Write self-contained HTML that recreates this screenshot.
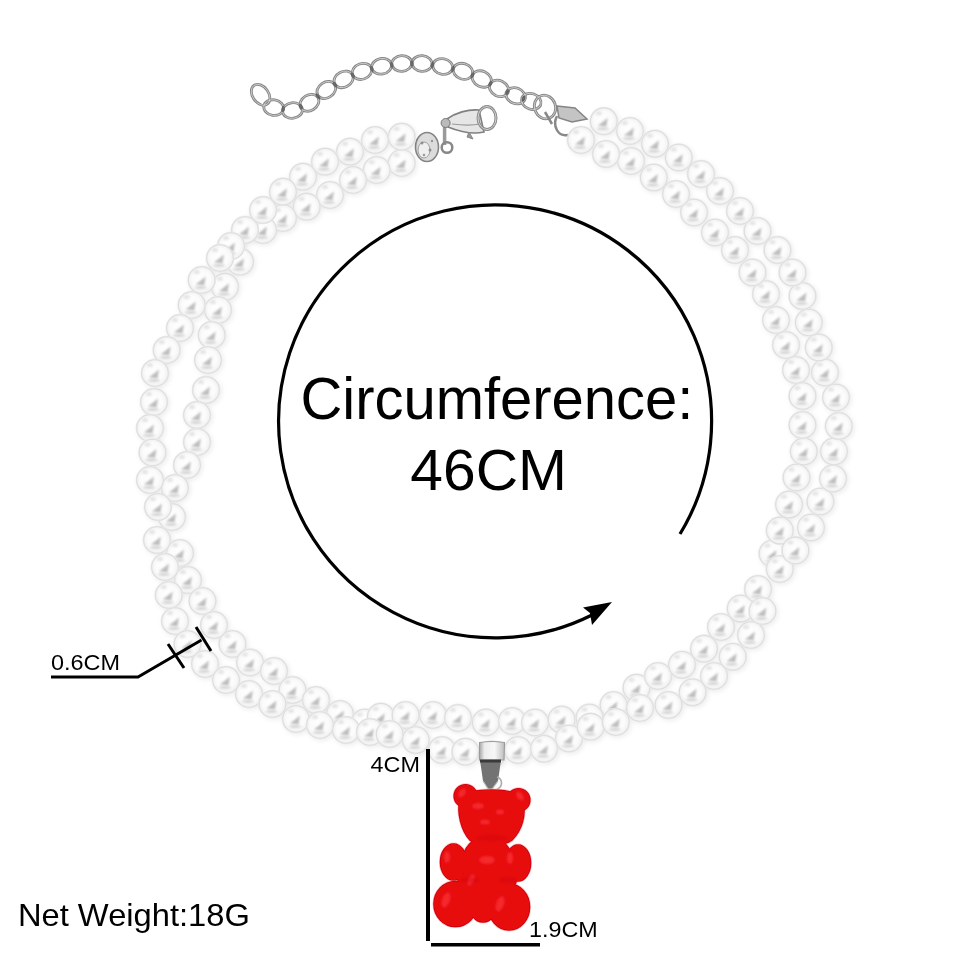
<!DOCTYPE html>
<html><head><meta charset="utf-8"><style>
html,body{margin:0;padding:0;background:#fff;}
body{width:960px;height:960px;overflow:hidden;position:relative;font-family:"Liberation Sans",sans-serif;}
svg{position:absolute;left:0;top:0;will-change:transform;}
.t{position:absolute;white-space:nowrap;color:#000;line-height:1;}
</style></head><body>
<svg width="960" height="960" viewBox="0 0 960 960">
<defs>
<radialGradient id="pg" cx="0.5" cy="0.5" r="0.5" fx="0.47" fy="0.45">
<stop offset="0" stop-color="#ffffff"/>
<stop offset="0.65" stop-color="#fbfbfb"/>
<stop offset="0.88" stop-color="#f2f2f2"/>
<stop offset="1" stop-color="#e9e9e9"/>
</radialGradient>
<filter id="bl" x="-50%" y="-50%" width="200%" height="200%"><feGaussianBlur stdDeviation="1.2"/></filter>
<filter id="pb1" filterUnits="userSpaceOnUse" x="-20" y="-20" width="40" height="40"><feGaussianBlur stdDeviation="0.5"/></filter>
<filter id="pb2" filterUnits="userSpaceOnUse" x="-20" y="-20" width="40" height="40"><feGaussianBlur stdDeviation="1.0"/></filter>
<filter id="shb" x="-10%" y="-10%" width="120%" height="120%"><feGaussianBlur stdDeviation="2"/></filter>
<filter id="bl3" x="-50%" y="-50%" width="200%" height="200%"><feGaussianBlur stdDeviation="0.9"/></filter>
<filter id="bl2" x="-50%" y="-50%" width="200%" height="200%"><feGaussianBlur stdDeviation="0.6"/></filter>
<g id="pearl">
<circle r="14.3" fill="url(#pg)"/>
<circle r="13.3" fill="none" stroke="#dedede" stroke-width="1.1" filter="url(#pb1)"/>
<path d="M-6,4.5 L4,-3.5 L2.5,5.5 Z" fill="#bdbdbd" filter="url(#pb2)"/>
<ellipse cx="-1" cy="7.5" rx="6" ry="1.5" fill="#d2d2d2" filter="url(#pb2)"/>
<ellipse cx="-5" cy="-8" rx="3" ry="2" fill="#e4e4e4" filter="url(#pb2)"/>
</g>
<circle id="pshadow" r="14.8" fill="#000" opacity="0.06"/>
<linearGradient id="bail" x1="0" x2="1">
<stop offset="0" stop-color="#a8a8a8"/><stop offset="0.2" stop-color="#ececec"/><stop offset="0.6" stop-color="#f8f8f8"/><stop offset="1" stop-color="#bdbdbd"/>
</linearGradient>
</defs>
<rect width="960" height="960" fill="#fff"/>
<g fill="none" stroke="#868686" stroke-width="2.8">
<ellipse cx="273.7" cy="107.6" rx="10" ry="7.8" transform="rotate(8.8 273.7 107.6)"/>
<ellipse cx="292.5" cy="110.5" rx="10" ry="7.8" transform="rotate(-7.7 292.5 110.5)"/>
<ellipse cx="309.4" cy="102.8" rx="10" ry="7.8" transform="rotate(-31.2 309.4 102.8)"/>
<ellipse cx="326.3" cy="90" rx="10" ry="7.8" transform="rotate(-34.4 326.3 90)"/>
<ellipse cx="343.6" cy="79.4" rx="10" ry="7.8" transform="rotate(-27.5 343.6 79.4)"/>
<ellipse cx="362" cy="71.4" rx="10" ry="7.8" transform="rotate(-19.0 362 71.4)"/>
<ellipse cx="381.6" cy="66.3" rx="10" ry="7.8" transform="rotate(-11.2 381.6 66.3)"/>
<ellipse cx="401.8" cy="63.5" rx="10" ry="7.8" transform="rotate(-4.0 401.8 63.5)"/>
<ellipse cx="422" cy="63.5" rx="10" ry="7.8" transform="rotate(4.2 422 63.5)"/>
<ellipse cx="442.7" cy="66.5" rx="10" ry="7.8" transform="rotate(10.8 442.7 66.5)"/>
<ellipse cx="463" cy="71.3" rx="10" ry="7.8" transform="rotate(17.7 463 71.3)"/>
<ellipse cx="481.8" cy="79" rx="10" ry="7.8" transform="rotate(25.4 481.8 79)"/>
<ellipse cx="499" cy="88.4" rx="10" ry="7.8" transform="rotate(26.4 499 88.4)"/>
<ellipse cx="515.6" cy="95.8" rx="10" ry="7.8" transform="rotate(21.9 515.6 95.8)"/>
<ellipse cx="531.3" cy="101.4" rx="10" ry="7.8" transform="rotate(19.6 531.3 101.4)"/>
<ellipse cx="260.6" cy="94.8" rx="8" ry="11.5" transform="rotate(-35 260.6 94.8)"/>
<ellipse cx="545" cy="107" rx="10.5" ry="12" transform="rotate(-20 545 107)"/>

</g>
<g fill="none" stroke="#e0e0e0" stroke-width="0.7">
<ellipse cx="273.7" cy="107.6" rx="10" ry="7.8" transform="rotate(8.8 273.7 107.6)"/>
<ellipse cx="292.5" cy="110.5" rx="10" ry="7.8" transform="rotate(-7.7 292.5 110.5)"/>
<ellipse cx="309.4" cy="102.8" rx="10" ry="7.8" transform="rotate(-31.2 309.4 102.8)"/>
<ellipse cx="326.3" cy="90" rx="10" ry="7.8" transform="rotate(-34.4 326.3 90)"/>
<ellipse cx="343.6" cy="79.4" rx="10" ry="7.8" transform="rotate(-27.5 343.6 79.4)"/>
<ellipse cx="362" cy="71.4" rx="10" ry="7.8" transform="rotate(-19.0 362 71.4)"/>
<ellipse cx="381.6" cy="66.3" rx="10" ry="7.8" transform="rotate(-11.2 381.6 66.3)"/>
<ellipse cx="401.8" cy="63.5" rx="10" ry="7.8" transform="rotate(-4.0 401.8 63.5)"/>
<ellipse cx="422" cy="63.5" rx="10" ry="7.8" transform="rotate(4.2 422 63.5)"/>
<ellipse cx="442.7" cy="66.5" rx="10" ry="7.8" transform="rotate(10.8 442.7 66.5)"/>
<ellipse cx="463" cy="71.3" rx="10" ry="7.8" transform="rotate(17.7 463 71.3)"/>
<ellipse cx="481.8" cy="79" rx="10" ry="7.8" transform="rotate(25.4 481.8 79)"/>
<ellipse cx="499" cy="88.4" rx="10" ry="7.8" transform="rotate(26.4 499 88.4)"/>
<ellipse cx="515.6" cy="95.8" rx="10" ry="7.8" transform="rotate(21.9 515.6 95.8)"/>
<ellipse cx="531.3" cy="101.4" rx="10" ry="7.8" transform="rotate(19.6 531.3 101.4)"/>
<ellipse cx="260.6" cy="94.8" rx="8" ry="11.5" transform="rotate(-35 260.6 94.8)"/>
<ellipse cx="545" cy="107" rx="10.5" ry="12" transform="rotate(-20 545 107)"/>

</g>
<g fill="#555" opacity="0.8" filter="url(#bl2)">
<ellipse cx="283.1" cy="109.0" rx="1.6" ry="3.2" transform="rotate(8.8 283.1 109.0)"/>
<ellipse cx="300.9" cy="106.7" rx="1.6" ry="3.2" transform="rotate(-24.5 300.9 106.7)"/>
<ellipse cx="317.9" cy="96.4" rx="1.6" ry="3.2" transform="rotate(-37.1 317.9 96.4)"/>
<ellipse cx="335.0" cy="84.7" rx="1.6" ry="3.2" transform="rotate(-31.5 335.0 84.7)"/>
<ellipse cx="352.8" cy="75.4" rx="1.6" ry="3.2" transform="rotate(-23.5 352.8 75.4)"/>
<ellipse cx="371.8" cy="68.8" rx="1.6" ry="3.2" transform="rotate(-14.6 371.8 68.8)"/>
<ellipse cx="391.7" cy="64.9" rx="1.6" ry="3.2" transform="rotate(-7.9 391.7 64.9)"/>
<ellipse cx="411.9" cy="63.5" rx="1.6" ry="3.2" transform="rotate(0.0 411.9 63.5)"/>
<ellipse cx="432.4" cy="65.0" rx="1.6" ry="3.2" transform="rotate(8.2 432.4 65.0)"/>
<ellipse cx="452.9" cy="68.9" rx="1.6" ry="3.2" transform="rotate(13.3 452.9 68.9)"/>
<ellipse cx="472.4" cy="75.2" rx="1.6" ry="3.2" transform="rotate(22.3 472.4 75.2)"/>
<ellipse cx="490.4" cy="83.7" rx="1.6" ry="3.2" transform="rotate(28.7 490.4 83.7)"/>
<ellipse cx="507.3" cy="92.1" rx="1.6" ry="3.2" transform="rotate(24.0 507.3 92.1)"/>
<ellipse cx="523.5" cy="98.6" rx="1.6" ry="3.2" transform="rotate(19.6 523.5 98.6)"/>

</g>
<!-- clasp -->
<path d="M447,119 C455,113 468,109 479,110 L484,132 C472,135 458,131 448,127 Z" fill="#e6e6e6" stroke="#808080" stroke-width="1.6"/>
<path d="M452,124 C460,125 470,126 480,124" fill="none" stroke="#9a9a9a" stroke-width="1.2"/>
<ellipse cx="487" cy="118" rx="9" ry="11.5" fill="none" stroke="#8a8a8a" stroke-width="3"/>
<ellipse cx="487" cy="118" rx="9" ry="11.5" fill="none" stroke="#e4e4e4" stroke-width="0.8"/>
<path d="M469,132 L473,139 L467,137 Z" fill="#999" stroke="#888" stroke-width="1"/>
<line x1="444.6" y1="125" x2="444.6" y2="145" stroke="#9a9a9a" stroke-width="3.5"/>
<circle cx="445.6" cy="123" r="4.5" fill="#bbb" stroke="#777" stroke-width="1"/>
<circle cx="447" cy="147.5" r="5.3" fill="none" stroke="#888" stroke-width="2.5"/>
<ellipse cx="427" cy="147" rx="11.5" ry="14.5" fill="#dcdcdc" stroke="#858585" stroke-width="1.6"/>
<ellipse cx="424" cy="150" rx="6" ry="8" fill="#efefef" stroke="#a0a0a0" stroke-width="1"/>
<g fill="#777" opacity="0.7"><circle cx="422" cy="143" r="1.5"/><circle cx="430" cy="150" r="1.5"/><circle cx="424" cy="155" r="1.3"/><circle cx="432" cy="141" r="1.2"/></g>
<path d="M557,106 L575,108 L587,119 L572,122 L559,118 Z" fill="#c4c4c4" stroke="#858585" stroke-width="1.5"/>
<path d="M557,116 C552,126 558,137 568,135" fill="none" stroke="#888" stroke-width="2.5"/>
<path d="M545,112 L552,124" stroke="#888" stroke-width="2.5"/>
<g filter="url(#shb)">
<use href="#pshadow" x="403.2" y="164.5"/>
<use href="#pshadow" x="378.2" y="171.5"/>
<use href="#pshadow" x="354.5" y="181.5"/>
<use href="#pshadow" x="331.5" y="196.5"/>
<use href="#pshadow" x="308.2" y="208.2"/>
<use href="#pshadow" x="284.5" y="219.5"/>
<use href="#pshadow" x="264.5" y="231.5"/>
<use href="#pshadow" x="241.5" y="263.2"/>
<use href="#pshadow" x="226.5" y="288.2"/>
<use href="#pshadow" x="219.5" y="311.5"/>
<use href="#pshadow" x="213.2" y="336.5"/>
<use href="#pshadow" x="209.5" y="361.5"/>
<use href="#pshadow" x="207.5" y="391.5"/>
<use href="#pshadow" x="198.5" y="416.5"/>
<use href="#pshadow" x="198.5" y="443.5"/>
<use href="#pshadow" x="188.5" y="466.5"/>
<use href="#pshadow" x="176.5" y="489.5"/>
<use href="#pshadow" x="173.5" y="518.5"/>
<use href="#pshadow" x="181.5" y="554.5"/>
<use href="#pshadow" x="189.5" y="581.5"/>
<use href="#pshadow" x="204.0" y="602.5"/>
<use href="#pshadow" x="215.5" y="626.5"/>
<use href="#pshadow" x="234.0" y="645.5"/>
<use href="#pshadow" x="251.5" y="664.0"/>
<use href="#pshadow" x="275.5" y="672.5"/>
<use href="#pshadow" x="294.0" y="691.5"/>
<use href="#pshadow" x="317.5" y="701.5"/>
<use href="#pshadow" x="341.5" y="715.5"/>
<use href="#pshadow" x="366.3" y="724.0"/>
<use href="#pshadow" x="382.3" y="718.2"/>
<use href="#pshadow" x="407.1" y="716.5"/>
<use href="#pshadow" x="434.5" y="716.5"/>
<use href="#pshadow" x="459.5" y="719.5"/>
<use href="#pshadow" x="487.3" y="724.0"/>
<use href="#pshadow" x="513.5" y="722.5"/>
<use href="#pshadow" x="536.5" y="724.0"/>
<use href="#pshadow" x="563.1" y="721.1"/>
<use href="#pshadow" x="591.0" y="719.0"/>
<use href="#pshadow" x="615.0" y="706.5"/>
<use href="#pshadow" x="638.0" y="689.2"/>
<use href="#pshadow" x="659.5" y="677.5"/>
<use href="#pshadow" x="683.5" y="666.3"/>
<use href="#pshadow" x="705.5" y="650.2"/>
<use href="#pshadow" x="722.5" y="628.5"/>
<use href="#pshadow" x="742.2" y="610.1"/>
<use href="#pshadow" x="759.5" y="590.5"/>
<use href="#pshadow" x="774.0" y="555.0"/>
<use href="#pshadow" x="781.3" y="532.1"/>
<use href="#pshadow" x="790.5" y="506.1"/>
<use href="#pshadow" x="798.0" y="479.0"/>
<use href="#pshadow" x="805.2" y="453.0"/>
<use href="#pshadow" x="804.0" y="426.5"/>
<use href="#pshadow" x="804.0" y="397.5"/>
<use href="#pshadow" x="797.5" y="371.5"/>
<use href="#pshadow" x="787.5" y="346.5"/>
<use href="#pshadow" x="777.5" y="321.5"/>
<use href="#pshadow" x="767.5" y="295.5"/>
<use href="#pshadow" x="754.0" y="274.0"/>
<use href="#pshadow" x="736.5" y="251.5"/>
<use href="#pshadow" x="716.5" y="234.0"/>
<use href="#pshadow" x="695.5" y="214.0"/>
<use href="#pshadow" x="677.5" y="195.5"/>
<use href="#pshadow" x="655.2" y="179.0"/>
<use href="#pshadow" x="632.5" y="162.5"/>
<use href="#pshadow" x="607.5" y="155.5"/>
<use href="#pshadow" x="582.5" y="141.5"/>
<use href="#pshadow" x="403.2" y="138.2"/>
<use href="#pshadow" x="376.5" y="141.5"/>
<use href="#pshadow" x="351.5" y="153.2"/>
<use href="#pshadow" x="326.5" y="163.2"/>
<use href="#pshadow" x="304.5" y="178.2"/>
<use href="#pshadow" x="284.5" y="193.2"/>
<use href="#pshadow" x="264.5" y="211.5"/>
<use href="#pshadow" x="246.5" y="231.5"/>
<use href="#pshadow" x="232.5" y="247.5"/>
<use href="#pshadow" x="221.5" y="259.5"/>
<use href="#pshadow" x="203.2" y="281.5"/>
<use href="#pshadow" x="193.2" y="306.5"/>
<use href="#pshadow" x="181.5" y="329.5"/>
<use href="#pshadow" x="168.2" y="351.5"/>
<use href="#pshadow" x="156.5" y="374.5"/>
<use href="#pshadow" x="155.5" y="403.5"/>
<use href="#pshadow" x="151.5" y="429.5"/>
<use href="#pshadow" x="154.0" y="454.0"/>
<use href="#pshadow" x="151.5" y="481.5"/>
<use href="#pshadow" x="159.5" y="508.5"/>
<use href="#pshadow" x="158.5" y="541.5"/>
<use href="#pshadow" x="166.5" y="568.5"/>
<use href="#pshadow" x="170.2" y="596.5"/>
<use href="#pshadow" x="176.5" y="622.5"/>
<use href="#pshadow" x="189.0" y="645.5"/>
<use href="#pshadow" x="206.5" y="665.5"/>
<use href="#pshadow" x="227.5" y="681.5"/>
<use href="#pshadow" x="250.5" y="695.5"/>
<use href="#pshadow" x="274.0" y="705.5"/>
<use href="#pshadow" x="297.5" y="720.5"/>
<use href="#pshadow" x="321.5" y="726.5"/>
<use href="#pshadow" x="347.5" y="731.5"/>
<use href="#pshadow" x="371.5" y="733.5"/>
<use href="#pshadow" x="391.1" y="735.5"/>
<use href="#pshadow" x="417.3" y="741.5"/>
<use href="#pshadow" x="443.5" y="751.5"/>
<use href="#pshadow" x="466.9" y="753.2"/>
<use href="#pshadow" x="493.2" y="756.1"/>
<use href="#pshadow" x="519.5" y="751.5"/>
<use href="#pshadow" x="545.5" y="750.2"/>
<use href="#pshadow" x="570.5" y="740.0"/>
<use href="#pshadow" x="592.1" y="728.2"/>
<use href="#pshadow" x="617.3" y="723.5"/>
<use href="#pshadow" x="641.5" y="709.5"/>
<use href="#pshadow" x="670.0" y="706.5"/>
<use href="#pshadow" x="694.1" y="693.8"/>
<use href="#pshadow" x="715.5" y="677.5"/>
<use href="#pshadow" x="734.2" y="658.3"/>
<use href="#pshadow" x="752.5" y="636.5"/>
<use href="#pshadow" x="764.0" y="612.5"/>
<use href="#pshadow" x="781.3" y="570.5"/>
<use href="#pshadow" x="796.9" y="551.9"/>
<use href="#pshadow" x="812.5" y="529.0"/>
<use href="#pshadow" x="821.9" y="503.0"/>
<use href="#pshadow" x="834.5" y="480.0"/>
<use href="#pshadow" x="835.5" y="453.0"/>
<use href="#pshadow" x="840.2" y="427.5"/>
<use href="#pshadow" x="837.5" y="399.0"/>
<use href="#pshadow" x="826.5" y="374.0"/>
<use href="#pshadow" x="820.2" y="349.0"/>
<use href="#pshadow" x="810.2" y="324.0"/>
<use href="#pshadow" x="804.0" y="297.5"/>
<use href="#pshadow" x="794.0" y="274.0"/>
<use href="#pshadow" x="779.0" y="251.5"/>
<use href="#pshadow" x="759.0" y="232.5"/>
<use href="#pshadow" x="741.5" y="212.5"/>
<use href="#pshadow" x="721.5" y="192.5"/>
<use href="#pshadow" x="702.5" y="175.5"/>
<use href="#pshadow" x="680.2" y="159.0"/>
<use href="#pshadow" x="656.5" y="145.2"/>
<use href="#pshadow" x="631.5" y="132.5"/>
<use href="#pshadow" x="605.2" y="122.8"/>
</g>
<g>
<use href="#pearl" x="401.7" y="163.0"/>
<use href="#pearl" x="376.7" y="170.0"/>
<use href="#pearl" x="353.0" y="180.0"/>
<use href="#pearl" x="330.0" y="195.0"/>
<use href="#pearl" x="306.7" y="206.7"/>
<use href="#pearl" x="283.0" y="218.0"/>
<use href="#pearl" x="263.0" y="230.0"/>
<use href="#pearl" x="240.0" y="261.7"/>
<use href="#pearl" x="225.0" y="286.7"/>
<use href="#pearl" x="218.0" y="310.0"/>
<use href="#pearl" x="211.7" y="335.0"/>
<use href="#pearl" x="208.0" y="360.0"/>
<use href="#pearl" x="206.0" y="390.0"/>
<use href="#pearl" x="197.0" y="415.0"/>
<use href="#pearl" x="197.0" y="442.0"/>
<use href="#pearl" x="187.0" y="465.0"/>
<use href="#pearl" x="175.0" y="488.0"/>
<use href="#pearl" x="172.0" y="517.0"/>
<use href="#pearl" x="180.0" y="553.0"/>
<use href="#pearl" x="188.0" y="580.0"/>
<use href="#pearl" x="202.5" y="601.0"/>
<use href="#pearl" x="214.0" y="625.0"/>
<use href="#pearl" x="232.5" y="644.0"/>
<use href="#pearl" x="250.0" y="662.5"/>
<use href="#pearl" x="274.0" y="671.0"/>
<use href="#pearl" x="292.5" y="690.0"/>
<use href="#pearl" x="316.0" y="700.0"/>
<use href="#pearl" x="340.0" y="714.0"/>
<use href="#pearl" x="364.8" y="722.5"/>
<use href="#pearl" x="380.8" y="716.7"/>
<use href="#pearl" x="405.6" y="715.0"/>
<use href="#pearl" x="433.0" y="715.0"/>
<use href="#pearl" x="458.0" y="718.0"/>
<use href="#pearl" x="485.8" y="722.5"/>
<use href="#pearl" x="512.0" y="721.0"/>
<use href="#pearl" x="535.0" y="722.5"/>
<use href="#pearl" x="561.6" y="719.6"/>
<use href="#pearl" x="589.5" y="717.5"/>
<use href="#pearl" x="613.5" y="705.0"/>
<use href="#pearl" x="636.5" y="687.7"/>
<use href="#pearl" x="658.0" y="676.0"/>
<use href="#pearl" x="682.0" y="664.8"/>
<use href="#pearl" x="704.0" y="648.7"/>
<use href="#pearl" x="721.0" y="627.0"/>
<use href="#pearl" x="740.7" y="608.6"/>
<use href="#pearl" x="758.0" y="589.0"/>
<use href="#pearl" x="772.5" y="553.5"/>
<use href="#pearl" x="779.8" y="530.6"/>
<use href="#pearl" x="789.0" y="504.6"/>
<use href="#pearl" x="796.5" y="477.5"/>
<use href="#pearl" x="803.8" y="451.5"/>
<use href="#pearl" x="802.5" y="425.0"/>
<use href="#pearl" x="802.5" y="396.0"/>
<use href="#pearl" x="796.0" y="370.0"/>
<use href="#pearl" x="786.0" y="345.0"/>
<use href="#pearl" x="776.0" y="320.0"/>
<use href="#pearl" x="766.0" y="294.0"/>
<use href="#pearl" x="752.5" y="272.5"/>
<use href="#pearl" x="735.0" y="250.0"/>
<use href="#pearl" x="715.0" y="232.5"/>
<use href="#pearl" x="694.0" y="212.5"/>
<use href="#pearl" x="676.0" y="194.0"/>
<use href="#pearl" x="653.8" y="177.5"/>
<use href="#pearl" x="631.0" y="161.0"/>
<use href="#pearl" x="606.0" y="154.0"/>
<use href="#pearl" x="581.0" y="140.0"/>
</g>
<g>
<use href="#pearl" x="401.7" y="136.7"/>
<use href="#pearl" x="375.0" y="140.0"/>
<use href="#pearl" x="350.0" y="151.7"/>
<use href="#pearl" x="325.0" y="161.7"/>
<use href="#pearl" x="303.0" y="176.7"/>
<use href="#pearl" x="283.0" y="191.7"/>
<use href="#pearl" x="263.0" y="210.0"/>
<use href="#pearl" x="245.0" y="230.0"/>
<use href="#pearl" x="231.0" y="246.0"/>
<use href="#pearl" x="220.0" y="258.0"/>
<use href="#pearl" x="201.7" y="280.0"/>
<use href="#pearl" x="191.7" y="305.0"/>
<use href="#pearl" x="180.0" y="328.0"/>
<use href="#pearl" x="166.7" y="350.0"/>
<use href="#pearl" x="155.0" y="373.0"/>
<use href="#pearl" x="154.0" y="402.0"/>
<use href="#pearl" x="150.0" y="428.0"/>
<use href="#pearl" x="152.5" y="452.5"/>
<use href="#pearl" x="150.0" y="480.0"/>
<use href="#pearl" x="158.0" y="507.0"/>
<use href="#pearl" x="157.0" y="540.0"/>
<use href="#pearl" x="165.0" y="567.0"/>
<use href="#pearl" x="168.8" y="595.0"/>
<use href="#pearl" x="175.0" y="621.0"/>
<use href="#pearl" x="187.5" y="644.0"/>
<use href="#pearl" x="205.0" y="664.0"/>
<use href="#pearl" x="226.0" y="680.0"/>
<use href="#pearl" x="249.0" y="694.0"/>
<use href="#pearl" x="272.5" y="704.0"/>
<use href="#pearl" x="296.0" y="719.0"/>
<use href="#pearl" x="320.0" y="725.0"/>
<use href="#pearl" x="346.0" y="730.0"/>
<use href="#pearl" x="370.0" y="732.0"/>
<use href="#pearl" x="389.6" y="734.0"/>
<use href="#pearl" x="415.8" y="740.0"/>
<use href="#pearl" x="442.0" y="750.0"/>
<use href="#pearl" x="465.4" y="751.7"/>
<use href="#pearl" x="491.7" y="754.6"/>
<use href="#pearl" x="518.0" y="750.0"/>
<use href="#pearl" x="544.0" y="748.8"/>
<use href="#pearl" x="569.0" y="738.5"/>
<use href="#pearl" x="590.6" y="726.7"/>
<use href="#pearl" x="615.8" y="722.0"/>
<use href="#pearl" x="640.0" y="708.0"/>
<use href="#pearl" x="668.5" y="705.0"/>
<use href="#pearl" x="692.6" y="692.3"/>
<use href="#pearl" x="714.0" y="676.0"/>
<use href="#pearl" x="732.7" y="656.8"/>
<use href="#pearl" x="751.0" y="635.0"/>
<use href="#pearl" x="762.5" y="611.0"/>
<use href="#pearl" x="779.8" y="569.0"/>
<use href="#pearl" x="795.4" y="550.4"/>
<use href="#pearl" x="811.0" y="527.5"/>
<use href="#pearl" x="820.4" y="501.5"/>
<use href="#pearl" x="833.0" y="478.5"/>
<use href="#pearl" x="834.0" y="451.5"/>
<use href="#pearl" x="838.8" y="426.0"/>
<use href="#pearl" x="836.0" y="397.5"/>
<use href="#pearl" x="825.0" y="372.5"/>
<use href="#pearl" x="818.8" y="347.5"/>
<use href="#pearl" x="808.8" y="322.5"/>
<use href="#pearl" x="802.5" y="296.0"/>
<use href="#pearl" x="792.5" y="272.5"/>
<use href="#pearl" x="777.5" y="250.0"/>
<use href="#pearl" x="757.5" y="231.0"/>
<use href="#pearl" x="740.0" y="211.0"/>
<use href="#pearl" x="720.0" y="191.0"/>
<use href="#pearl" x="701.0" y="174.0"/>
<use href="#pearl" x="678.8" y="157.5"/>
<use href="#pearl" x="655.0" y="143.8"/>
<use href="#pearl" x="630.0" y="131.0"/>
<use href="#pearl" x="603.8" y="121.2"/>
</g>
<!-- circle arrow -->
<path d="M680,534 A216.5,216.5 0 1 0 592,615" fill="none" stroke="#000" stroke-width="3.2"/>
<path d="M612,602 L583,607.5 L590,613 L592,625 Z" fill="#000"/>
<!-- 0.6CM -->
<g stroke="#000" stroke-width="3" fill="none">
<path d="M51,677 L138,677 L201.5,640"/>
<path d="M168,644 L184,668"/>
<path d="M196,627 L211,651"/>
</g>
<!-- bail -->
<path d="M479.5,742.5 Q492,740.5 504.5,742.5 L504,760 L479.5,760 Z" fill="url(#bail)" stroke="#9a9a9a" stroke-width="1.1"/>
<path d="M480,760 L501,760 L498,781 L490,792 L483,781 Z" fill="#737373"/>
<rect x="480" y="759.5" width="21" height="3" fill="#3a3a3a"/>
<path d="M497,777 C503,779 503,787 497,789" fill="none" stroke="#aaa" stroke-width="1.6"/>
<path d="M483,781 L490,792 L498,781" fill="none" stroke="#bbb" stroke-width="1.2"/>
<!-- bear -->
<defs><g id="bearshape">
<circle cx="465.5" cy="796" r="11.3"/>
<circle cx="518.5" cy="800" r="11.3"/>
<path d="M460,800 C462,792 475,790 492,790 C509,790 520,793 523,802 C526,815 522,830 512,840 C505,846 478,846 470,840 C461,830 457,812 460,800 Z"/>
<ellipse cx="487.5" cy="864" rx="25.5" ry="28"/>
<ellipse cx="453.5" cy="862" rx="13" ry="18"/>
<ellipse cx="518" cy="863" rx="12.5" ry="18"/>
<ellipse cx="455.5" cy="904" rx="21.5" ry="22.5"/>
<ellipse cx="509" cy="907" rx="20.5" ry="23"/>
<ellipse cx="483" cy="903" rx="14" ry="19"/>
<ellipse cx="468" cy="880" rx="10" ry="7"/>
<ellipse cx="506" cy="881" rx="10" ry="7"/>
<ellipse cx="492" cy="890" rx="10" ry="8"/>
<circle cx="472" cy="888" r="6"/>
</g></defs>
<filter id="dil" x="-10%" y="-10%" width="120%" height="120%"><feMorphology operator="dilate" radius="0.9"/><feGaussianBlur stdDeviation="0.5"/></filter>
<filter id="ero" x="-10%" y="-10%" width="120%" height="120%"><feMorphology operator="erode" radius="1.1"/><feGaussianBlur stdDeviation="0.6"/></filter>
<filter id="bsoft" x="-10%" y="-10%" width="120%" height="120%"><feGaussianBlur stdDeviation="0.45"/></filter>
<g filter="url(#bsoft)">
<use href="#bearshape" fill="#f7b5b5" stroke="#f7c0c0" stroke-width="3"/>
<use href="#bearshape" fill="#c8000e" stroke="#cc0010" stroke-width="1.6"/>
<use href="#bearshape" fill="#e80a10"/>
<g fill="#ff4a4a" opacity="0.5" filter="url(#bl)">
<ellipse cx="462" cy="793" rx="3" ry="5" transform="rotate(40 462 793)"/>
<ellipse cx="520" cy="796" rx="3" ry="5" transform="rotate(-40 520 796)"/>
<ellipse cx="478" cy="806" rx="6" ry="3"/>
<ellipse cx="500" cy="812" rx="4" ry="2.5"/>
<ellipse cx="485" cy="822" rx="5" ry="2.5"/>
<ellipse cx="447" cy="857" rx="3" ry="6"/>
<ellipse cx="510" cy="858" rx="3" ry="6"/>
<ellipse cx="446" cy="900" rx="4" ry="8" transform="rotate(20 446 900)"/>
<ellipse cx="500" cy="904" rx="4" ry="8" transform="rotate(20 500 904)"/>
<ellipse cx="487" cy="860" rx="8" ry="4"/>
<ellipse cx="471" cy="880" rx="3" ry="6" transform="rotate(30 471 880)"/>
</g>
</g>
<g fill="#c4000a" opacity="0.3" filter="url(#bl)">
<ellipse cx="492" cy="838" rx="16" ry="3"/>
<ellipse cx="470" cy="880" rx="10" ry="3"/>
<ellipse cx="508" cy="880" rx="10" ry="3"/>
</g>
<!-- texts -->
<g font-family="Liberation Sans" fill="#000" lengthAdjust="spacingAndGlyphs">
<text x="300.38" y="418.6" font-size="59.5" textLength="393.09" lengthAdjust="spacingAndGlyphs">Circumference:</text>
<text x="410.29" y="490.4" font-size="57.96" textLength="156.77" lengthAdjust="spacingAndGlyphs">46CM</text>
<text x="50.92" y="670.3" font-size="21.79" textLength="69.05" lengthAdjust="spacingAndGlyphs">0.6CM</text>
<text x="370.5" y="772.0" font-size="21.79" textLength="49.42" lengthAdjust="spacingAndGlyphs">4CM</text>
<text x="529.11" y="937.4" font-size="22.35" textLength="68.63" lengthAdjust="spacingAndGlyphs">1.9CM</text>
<text x="17.93" y="925.5" font-size="31.98" textLength="231.97" lengthAdjust="spacingAndGlyphs">Net Weight:18G</text>
</g>
<!-- dims -->
<rect x="426" y="749" width="4" height="192" fill="#000"/>
<rect x="431" y="943" width="109" height="3.5" fill="#000"/>
</svg>
</body></html>
